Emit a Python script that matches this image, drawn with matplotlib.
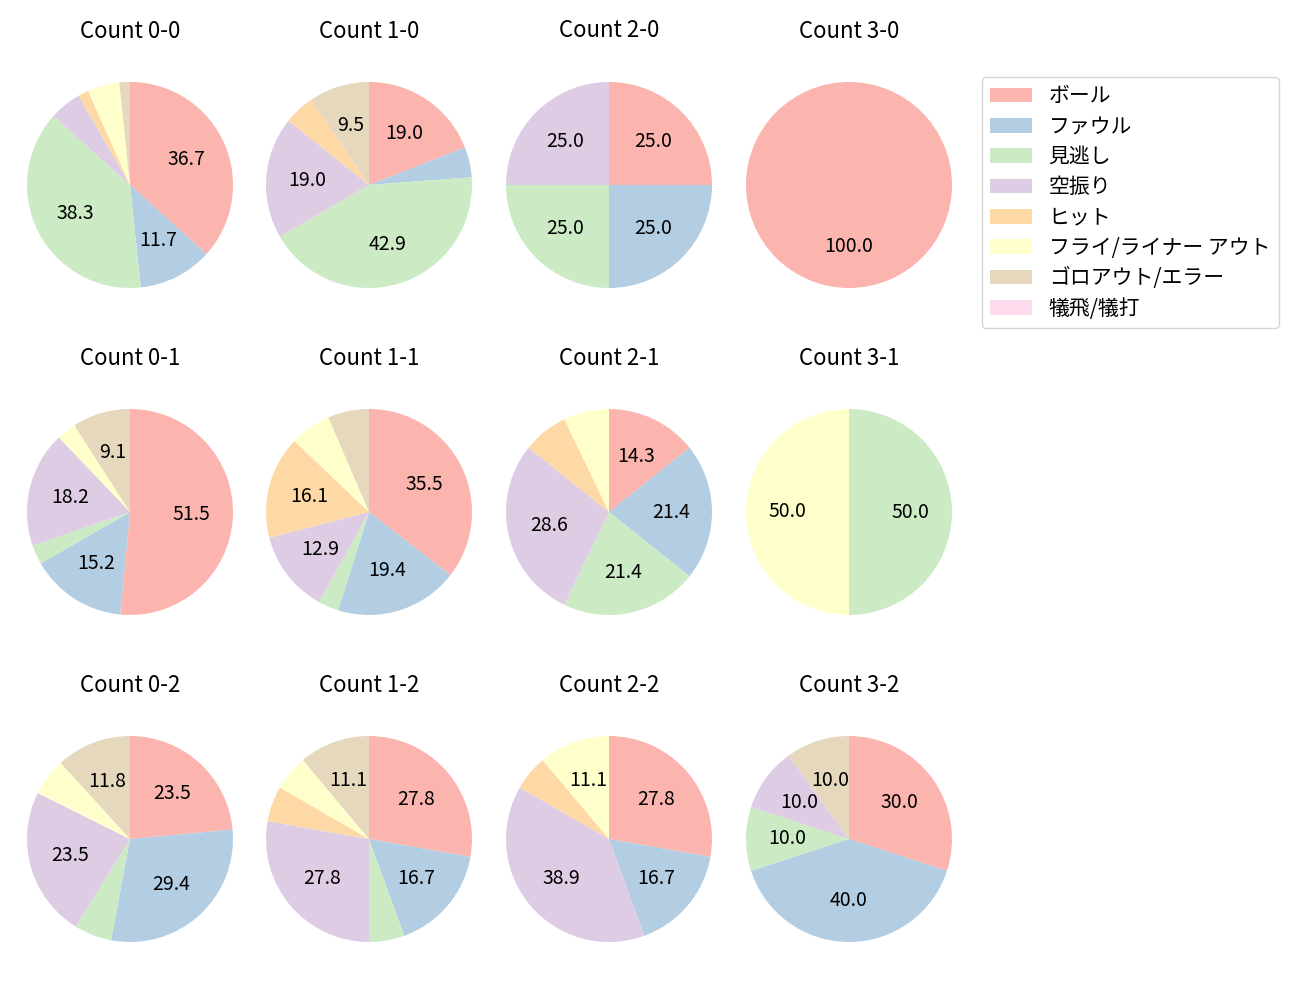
import matplotlib
matplotlib.use("Agg")
import matplotlib.pyplot as plt
from matplotlib.patches import Patch

plt.rcParams['font.family'] = ['Noto Sans CJK JP', 'DejaVu Sans']

categories = ['ボール', 'ファウル', '見逃し', '空振り', 'ヒット',
              'フライ/ライナー アウト', 'ゴロアウト/エラー', '犠飛/犠打']

titles = ['Count 0-0', 'Count 1-0', 'Count 2-0', 'Count 3-0',
          'Count 0-1', 'Count 1-1', 'Count 2-1', 'Count 3-1',
          'Count 0-2', 'Count 1-2', 'Count 2-2', 'Count 3-2']

# order: ball, foul, looking, swinging, hit, fly/liner out, ground out/error, sac
count_0_0 = [22, 7, 23, 3, 1, 3, 1, 0]
count_1_0 = [4, 1, 9, 4, 1, 0, 2, 0]
count_2_0 = [1, 1, 1, 1, 0, 0, 0, 0]
count_3_0 = [1, 0, 0, 0, 0, 0, 0, 0]
count_0_1 = [17, 5, 1, 6, 0, 1, 3, 0]
count_1_1 = [11, 6, 1, 4, 5, 2, 2, 0]
count_2_1 = [2, 3, 3, 4, 1, 1, 0, 0]
count_3_1 = [0, 0, 1, 0, 0, 1, 0, 0]
count_0_2 = [4, 5, 1, 4, 0, 1, 2, 0]
count_1_2 = [5, 3, 1, 5, 1, 1, 2, 0]
count_2_2 = [5, 3, 0, 7, 1, 2, 0, 0]
count_3_2 = [3, 4, 1, 1, 0, 0, 1, 0]

data = [count_0_0, count_1_0, count_2_0, count_3_0,
        count_0_1, count_1_1, count_2_1, count_3_1,
        count_0_2, count_1_2, count_2_2, count_3_2]

colors = plt.get_cmap('Pastel1').colors[:8]

W, H = 1300, 1000
fig = plt.figure(figsize=(13, 10), dpi=100)

col_cx = [130, 369, 609, 849]
row_cy = [185, 512, 839]
R = 103
size = 2 * 1.25 * R

def fmt(p):
    return f'{p:.1f}' if p >= 8 else ''

for i, (vals, title) in enumerate(zip(data, titles)):
    r, c = divmod(i, 4)
    cx, cy = col_cx[c], row_cy[r]
    ax = fig.add_axes([(cx - size / 2) / W, 1 - (cy + size / 2) / H, size / W, size / H])
    ax.pie(vals, colors=colors, startangle=90, counterclock=False,
           autopct=fmt, textprops={'fontsize': 14})
    ax.set_aspect('equal')
    ax.set_title(title, fontsize=16, pad=13.5)

handles = [Patch(facecolor=colors[k], label=categories[k]) for k in range(8)]
fig.legend(handles=handles, loc='upper left', bbox_to_anchor=(982 / W, 1 - 77 / H),
           fontsize=15, frameon=True, borderaxespad=0, labelspacing=0.4)

fig.savefig('out.png', dpi=100)
